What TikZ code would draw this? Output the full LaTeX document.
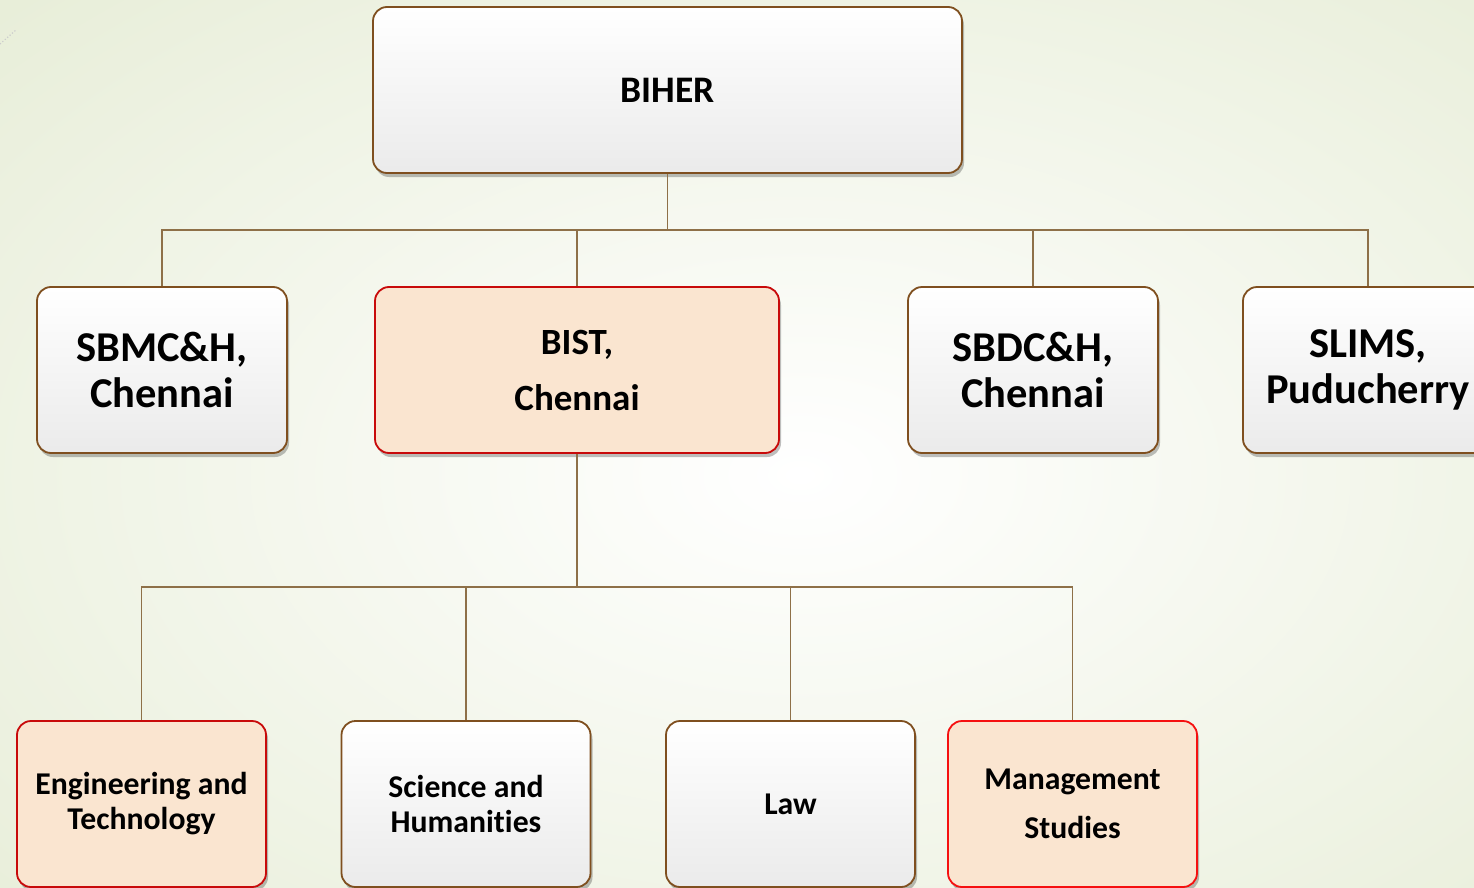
\documentclass[tikz,border=0pt]{standalone}
\usepackage{fontspec}
\setmainfont{Carlito}[Ligatures=NoCommon]
\usetikzlibrary{shadows}
\definecolor{bgc}{HTML}{E8EED9}
\definecolor{boxbrown}{HTML}{7F4F1F}
\definecolor{connc}{HTML}{8E7048}
\definecolor{peach}{HTML}{FAE5D0}
\definecolor{darkred}{HTML}{C80A0A}
\definecolor{brightred}{HTML}{F51010}
\tikzset{
  box/.style={rounded corners=14pt, draw=boxbrown, line width=1.8pt,
    top color=white, bottom color=black!8, align=center,
    minimum width=250pt, minimum height=166pt, inner sep=0pt,
    drop shadow={shadow xshift=2pt, shadow yshift=-4pt, opacity=0.25, fill=black}},
  hbox/.style={box, draw=darkred, fill=peach, top color=peach, bottom color=peach},
  conn/.style={draw=connc, line width=1.5pt},
  ftop/.style={font=\fontsize{37.5}{44}\selectfont\bfseries},
  fmid/.style={font=\fontsize{42.5}{46}\selectfont\bfseries},
  fbist/.style={font=\fontsize{37}{56}\selectfont\bfseries},
  fbot/.style={font=\fontsize{31.7}{35}\selectfont\bfseries},
  fmgmt/.style={font=\fontsize{31.7}{49}\selectfont\bfseries},
}
\begin{document}
\begin{tikzpicture}[x=1pt,y=-1pt]
\useasboundingbox (0,0) rectangle (1474,888);
\clip (0,0) rectangle (1474,888);
\shade[inner color=white, outer color=bgc] (-300,-200) rectangle (1900,1150);
\draw[black!20, line width=1.2pt, dotted] (0,44) -- (16,30);
% level nodes
\node[box, ftop, minimum width=589pt] (biher) at (667.5,90) {BIHER};
\node[box, fmid] (sbmc) at (162,370) {SBMC\&H,\\Chennai};
\node[hbox, fbist, minimum width=404pt] (bist) at (577,370) {BIST,\\Chennai};
\node[box, fmid] (sbdc) at (1033,370) {SBDC\&H,\\Chennai};
\node[box, fmid] (slims) at (1368,370) {SLIMS,\\Puducherry};
\node[hbox, fbot, minimum width=249pt] (eng) at (141.5,804) {Engineering and\\Technology};
\node[box, fbot, minimum width=249pt] (sci) at (466,804) {Science and\\Humanities};
\node[box, fbot, minimum width=249pt] (law) at (790.5,804) {Law};
\node[hbox, fmgmt, draw=brightred, minimum width=249pt] (mgmt) at (1072.5,804) {Management\\Studies};
% connectors
\draw[conn] (biher.south) -- (biher.south |- 0,230);
\draw[conn] (sbmc.north) |- (slims.north |- 0,230) -- (slims.north);
\draw[conn] (bist.north) -- (bist.north |- 0,230);
\draw[conn] (sbdc.north) -- (sbdc.north |- 0,230);
\draw[conn] (bist.south) -- (bist.south |- 0,587);
\draw[conn] (eng.north) |- (mgmt.north |- 0,587) -- (mgmt.north);
\draw[conn] (sci.north) -- (sci.north |- 0,587);
\draw[conn] (law.north) -- (law.north |- 0,587);
\end{tikzpicture}
\end{document}
